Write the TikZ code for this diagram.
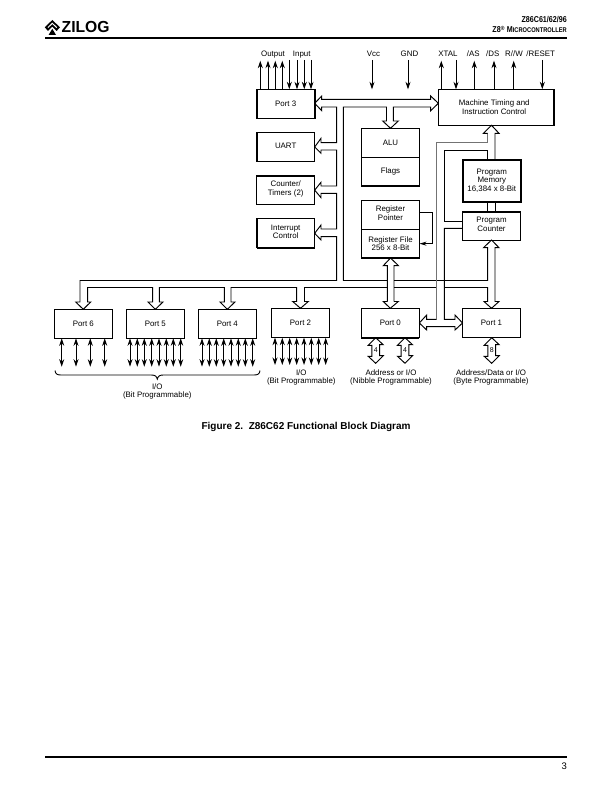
\documentclass[tikz,border=0pt]{standalone}
\usepackage{fontspec}
\setmainfont{Liberation Sans}
\usetikzlibrary{arrows.meta}
% extra depth on the last text line pushes a label up inside its box
\newcommand{\lift}[1]{\rule[-#1pt]{0pt}{0pt}}
\newcommand{\labelsize}{\fontsize{7.9}{8.7}\selectfont}
\tikzset{
  blockbox/.style={draw=black,line width=1pt,fill=white,inner sep=0pt,outer sep=0pt,
    align=center,font=\labelsize,minimum width=58pt},
  heaviest/.style={blockbox,line width=2pt},
  edgeline/.style={line width=1.6pt,line cap=square},
  busline/.style={draw=black,line width=0.95pt,line join=miter},
  busgray/.style={draw=black!55,line width=1.5pt},
  pinarrow/.style={line width=0.9pt,-{Stealth[length=7.5pt,width=5pt]}},
  iopin/.style={line width=0.9pt,{Stealth[length=7.5pt,width=5pt]}-{Stealth[length=7.5pt,width=5pt]}},
  sig/.style={font=\labelsize,inner sep=0pt},
  pinlabel/.style={sig,anchor=base},
  rulebar/.style={line width=1.6pt},
}
\begin{document}
\begin{tikzpicture}[x=1pt,y=-1pt]
\useasboundingbox[fill=white] (0,0) rectangle (612,792);

% Page header
\draw[rulebar] (45,38) coordinate (headL) -- (567,38) coordinate (headR);
\node[anchor=east,inner sep=0pt,font=\bfseries\fontsize{8.5}{9}\selectfont] (partno) at (567,20)
  {\scalebox{.84}[1]{Z86C61/62/96}};
\node[anchor=east,inner sep=0pt,font=\bfseries\fontsize{8.5}{9}\selectfont] (family) at (567,29.5)
  {\scalebox{.84}[1]{Z8\textsuperscript{®} M{\fontsize{6.8}{9}\selectfont ICROCONTROLLER}}};

% Company mark and wordmark
\fill (52.3,20) -- (60,27.3) -- (56.6,31) -- (52.3,26.6) -- (48,31) -- (44.8,27.3) -- cycle;
\fill[white] (52.3,22.6) -- (57,27.2) -- (56.4,28) -- (52.3,24) -- (48.2,28) -- (47.6,27.2) -- cycle;
\fill (52.3,28.8) -- (56,35) -- (48.6,35) -- cycle;
\node[anchor=west,inner sep=0pt,font=\bfseries\fontsize{16}{16}\selectfont] (wordmark) at (61.5,27)
  {\scalebox{.98}[1]{ZILOG}};

% Port 3 and peripheral blocks
\node[blockbox,minimum height=29pt] (port3) at (285.7,103.8) {Port 3\lift{1}};
\node[blockbox,minimum height=28.6pt] (uart) at (285.7,147) {UART\lift{2}};
\node[blockbox,minimum height=28.3pt] (counter) at (285.7,190.1) {Counter/\\Timers (2)\lift{4}};
\node[blockbox,minimum height=29.3pt] (interrupt) at (285.7,233.3) {Interrupt\\Control\lift{3}};

% Central execution blocks
\node[blockbox,minimum height=29pt] (alu) at (390.5,142.8) {ALU};
\node[blockbox,minimum height=28.4pt] (flags) at (390.5,171.5) {Flags};
\node[blockbox,minimum height=29pt] (regptr) at (390.5,214.8) {Register\\Pointer\lift{4}};
\node[blockbox,minimum height=28.7pt] (regfile) at (390.5,243.65) {Register File\\256 x 8-Bit};

% Control and program storage
\node[blockbox,minimum width=115.7pt,minimum height=36pt] (machine) at (496.2,107.3)
  {\hspace*{-4pt}Machine Timing and\\\hspace*{-4pt}Instruction Control};
\node[heaviest,minimum height=42pt] (progmem) at (491.8,180.7)
  {Program\\Memory\\16,384 x 8-Bit\lift{1}};
\node[blockbox,minimum height=28.3pt] (progctr) at (491.5,225.85) {Program\\Counter\lift{3}};

% Lower port row
\node[blockbox,minimum height=29pt] (port6) at (83.3,323.8) {Port 6\lift{1}};
\node[blockbox,minimum height=29pt] (port5) at (155.3,323.8) {Port 5\lift{1}};
\node[blockbox,minimum height=29pt] (port4) at (227.3,323.8) {Port 4\lift{1}};
\node[blockbox,minimum height=29.4pt] (port2) at (300.5,323) {Port 2\lift{1}};
\node[blockbox,minimum height=29.4pt] (port0) at (390.3,323) {Port 0\lift{1}};
\node[blockbox,minimum height=29.4pt] (port1) at (491.5,323) {Port 1\lift{1}};

% Heavier edges on some of the blocks
\draw[edgeline] (port3.north west) -- (port3.south west) -- (port3.south east) -- (port3.north east);
\draw[edgeline] (uart.north west) -- (uart.south west);
\draw[edgeline] (counter.north west) -- (counter.north east);
\draw[edgeline] (interrupt.south west) -- (interrupt.north west) -- (interrupt.north east);
\draw[edgeline] (interrupt.south west) -- (interrupt.south east);
\draw[edgeline] (alu.north west) -- (flags.south west) -- (flags.south east) -- (alu.north east);
\draw[edgeline] (regptr.north west) -- (regfile.south west) -- (regfile.south east);
\draw[edgeline] (machine.south east) -- (machine.north east);
\draw[edgeline] (machine.south west) -- (machine.south east);
\draw[edgeline] (progctr.north west) -- (progctr.north east);
\draw[edgeline] (port6.south west) -- (port6.south east) -- (port6.north east);
\draw[edgeline] (port5.south west) -- (port5.south east) -- (port5.north east);
\draw[edgeline] (port4.south west) -- (port4.south east) -- (port4.north east);
\draw[edgeline] (port2.south east) -- (port2.north east);
\draw[edgeline] (port0.north west) -- (port0.south west) -- (port0.south east);

% Port 3 signal pins
\foreach \x [count=\i] in {260.3,268,275.3,282.3} {
  \coordinate (outpin\i) at (\x,60.7);
  \draw[pinarrow] (outpin\i |- port3.north) -- (outpin\i);
}
\foreach \x [count=\i] in {289.3,297,304.3,311} {
  \coordinate (inpin\i) at (\x,60);
  \draw[pinarrow] (inpin\i) -- (inpin\i |- port3.north);
}
\node[pinlabel] (lbloutput) at (273,56.2) {Output};
\node[pinlabel] (lblinput) at (301.7,56.2) {Input};

% Power pins
\coordinate (vccpin) at (372,60);
\coordinate (gndpin) at (408,60);
\draw[pinarrow] (vccpin) -- (372,89.3);
\draw[pinarrow] (gndpin) -- (408,89.3);
\node[pinlabel] (lblvcc) at (373.5,56.2) {Vcc};
\node[pinlabel] (lblgnd) at (409.5,56.2) {GND};

% Control pins of the timing block
\foreach \x [count=\i] in {441.3,474.3,494,513.7} {
  \coordinate (ctlout\i) at (\x,60.7);
  \draw[pinarrow] (ctlout\i |- machine.north) -- (ctlout\i);
}
\foreach \x [count=\i] in {456,542.3} {
  \coordinate (ctlin\i) at (\x,60);
  \draw[pinarrow] (ctlin\i) -- (ctlin\i |- machine.north);
}
\node[pinlabel] (lblxtal) at (448,56.2) {XTAL};
\node[pinlabel] (lblas) at (473.3,56.2) {/AS};
\node[pinlabel] (lblds) at (492.7,56.2) {/DS};
\node[pinlabel] (lblrw) at (514,56.2) {R//W};
\node[pinlabel] (lblreset) at (540.7,56.2) {/RESET};

% Upper bus: outer side
\draw[busline] (port3.east |- 0,103.3) -- (321.7,96) -- (321.7,99.3) -- (430.7,99.3) -- (430.7,96)
  -- (machine.west |- 0,103.3) -- (430.7,110.7) -- (430.7,107) -- (393.3,107) -- (393.3,121)
  -- (398.3,121) -- (alu.north) -- (382.7,121) -- (386.5,121) -- (386.5,107) -- (343.3,107) -- (343.3,280.5);
% Bus down the left side, feeding the peripherals and the lower ports
\draw[busline] (port3.east |- 0,103.3) -- (321.7,110.7) -- (321.7,107) -- (336.7,107) -- (336.7,142.7)
  -- (321,142.7) -- (321,138.3) -- (uart.east) -- (321,153.3) -- (321,150) -- (336.7,150)
  -- (336.7,186) -- (321,186) -- (321,182.3) -- (counter.east) -- (321,197.7) -- (321,193.3) -- (336.7,193.3)
  -- (336.7,229) -- (321,229) -- (321,225) -- (interrupt.east) -- (321,240) -- (321,236.7) -- (336.7,236.7)
  -- (336.7,280.5) -- (80,280.5) -- (80,302) -- (75.7,302) -- (port6.north) -- (90.7,302) -- (87.7,302)
  -- (87.7,287.5) -- (152.7,287.5) -- (152.7,302) -- (148,302) -- (port5.north) -- (163,302) -- (159.3,302)
  -- (159.3,287.5) -- (224.3,287.5) -- (224.3,302) -- (220,302) -- (port4.north) -- (235,302) -- (231,302)
  -- (231,287.5) -- (296.7,287.5) -- (296.7,301.5) -- (292.7,301.5) -- (port2.north) -- (308.3,301.5)
  -- (304.5,301.5) -- (304.5,287.5) -- (387.3,287.5);
\draw[busline] (343.3,280.5) -- (387.3,280.5);
\draw[busline] (394,280.5) -- (487.7,280.5) -- (487.7,247.7) -- (483.5,247.7) -- (progctr.south)
  -- (499,247.7) -- (495,247.7) -- (495,301.5) -- (499,301.5) -- (port1.north) -- (484,301.5)
  -- (487.7,301.5) -- (487.7,287.5) -- (444.3,287.5);
\draw[busline] (394,287.5) -- (436.7,287.5);
% Register file to Port 0
\draw[busline] (387.3,301.5) -- (387.3,265.7) -- (383.3,265.7) -- (regfile.south) -- (398.5,265.7) -- (394,265.7) -- (394,301.5);
\draw[busline] (387.3,301.5) -- (383.3,301.5) -- (port0.north) -- (398.3,301.5) -- (394,301.5);

% Program path between Port 0, Port 1, the counter and the timing block
\draw[busline] (port0.east) -- (426.7,315) -- (426.7,319.3) -- (436.7,319.3);
\draw[busgray] (436.7,319.3) -- (436.7,142.7) -- (487.7,142.7) -- (487.7,133.3);
\draw[busline] (487.7,133.3) -- (483.5,133.3) -- (491.5,125.3) -- (499,133.3) -- (495,133.3) -- (495,159.7);
\draw[busline] (487.7,159.7) -- (487.7,150) -- (444.3,150) -- (444.3,221.7) -- (462.5,221.7);
\draw[busline] (462.5,228.3) -- (444.3,228.3) -- (444.3,319.3) -- (455,319.3) -- (455,315) -- (port1.west)
  -- (455,330) -- (455,326.7) -- (426.7,326.7) -- (426.7,330) -- (port0.east);
\draw[busline] (487.7,201.7) -- (487.7,211.7);
\draw[busline] (495,201.7) -- (495,211.7);

% Register pointer loop
\draw[line width=0.9pt,-{Stealth[length=7pt,width=4pt]}] ([yshift=2.5pt]regptr.east) -- ++(13,0) |- (regfile.east);

% Bit-programmable port lines
\foreach \x [count=\i] in {61.7,76,90.3,104.7} {
  \coordinate (p6pin\i) at (\x,366.7);
  \draw[iopin] (p6pin\i |- port6.south) -- (p6pin\i);
}
\foreach \x [count=\i] in {130,137.3,144.3,151.7,159,166.3,173.3,180.7} {
  \coordinate (p5pin\i) at (\x,366.7);
  \draw[iopin] (p5pin\i |- port5.south) -- (p5pin\i);
}
\foreach \x [count=\i] in {202,209.3,216.3,223.7,231,238.3,245.3,252.7} {
  \coordinate (p4pin\i) at (\x,366.7);
  \draw[iopin] (p4pin\i |- port4.south) -- (p4pin\i);
}
\foreach \x [count=\i] in {275,282.3,289.7,296.7,304,311.3,318.7,325.7} {
  \coordinate (p2pin\i) at (\x,365);
  \draw[iopin] (p2pin\i |- port2.south) -- (p2pin\i);
}

% Wide two-way arrows below Port 0 and Port 1
\foreach \x/\w/\nm/\src in {375.7/4/nibA/port0,405/4/nibB/port0,491.7/8/byteC/port1} {
  \coordinate (\nm) at (\x,363.3);
  \draw[busline] (\nm |- \src.south) -- ++(7.5,7) -- ++(-3.6,0) -- ++(0,11) -- ++(3.6,0) -- (\nm)
    -- ++(-7.5,-7) -- ++(3.6,0) -- ++(0,-11) -- ++(-3.6,0) -- cycle;
  \node[font=\fontsize{7}{7}\selectfont,inner sep=0pt] (width\nm) at (\x,350.5) {\w};
}

% Brace under Ports 6, 5 and 4
\draw[line width=0.9pt] (55,370.5) .. controls (55.5,374) and (57,375) .. (61,375) -- (151,375)
  .. controls (155,375) and (156.5,376) .. (157.3,379.2) .. controls (158.1,376) and (159.5,375) .. (163.5,375)
  -- (254,375) .. controls (258,375) and (259.5,374) .. (260,370.5);

% Group labels
\node[sig,align=center] (lblbit) at (157.3,391.5) {I/O\\(Bit Programmable)};
\node[sig,align=center] (lblbittwo) at (301.3,377.5) {I/O\\(Bit Programmable)};
\node[sig,align=center] (lblnibble) at (391,377.5) {Address or I/O\\(Nibble Programmable)};
\node[sig,align=center] (lblbyte) at (491,377.5) {Address/Data or I/O\\(Byte Programmable)};

% Caption
\node[inner sep=0pt,font=\bfseries\fontsize{10}{11}\selectfont] (caption) at (306,426.5)
  {Figure 2.\ \ Z86C62 Functional Block Diagram};

% Page footer
\draw[rulebar] (45,757) coordinate (footL) -- (567,757) coordinate (footR);
\node[anchor=east,inner sep=0pt,font=\fontsize{9.5}{11}\selectfont] (pageno) at (567,766.5) {3};
\end{tikzpicture}
\end{document}
